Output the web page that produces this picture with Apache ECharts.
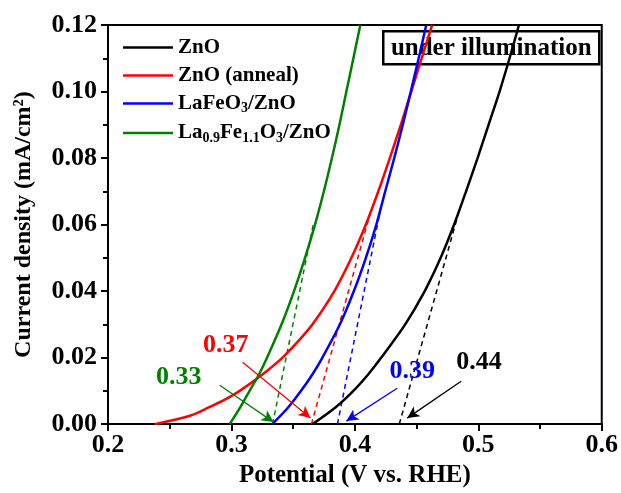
<!DOCTYPE html>
<html>
<head>
<meta charset="utf-8">
<script src="https://cdn.jsdelivr.net/npm/echarts@6/dist/echarts.min.js"></script>
<style>
html,body{margin:0;padding:0;background:#fff;}
#chart{width:621px;height:493px;}
</style>
</head>
<body>
<div id="chart"></div>
<script>
// ---- data ----
var xTicks = [0.2, 0.3, 0.4, 0.5, 0.6];
var yTicks = [0.00, 0.02, 0.04, 0.06, 0.08, 0.10, 0.12];

var potZnO = [0.3657, 0.3842, 0.3988, 0.4109, 0.4214, 0.4408, 0.4566, 0.4695, 0.4804, 0.4901, 0.4994, 0.5083, 0.5172, 0.5253, 0.5329];
var curZnO = [0, 0.005, 0.010, 0.015, 0.020, 0.030, 0.040, 0.050, 0.060, 0.070, 0.080, 0.090, 0.100, 0.110, 0.120];

var potAnneal = [0.2380, 0.2663, 0.2816, 0.2954, 0.3067, 0.3253, 0.3414, 0.3543, 0.3657, 0.3834, 0.3972, 0.4089, 0.4190, 0.4283, 0.4372, 0.4457, 0.4541, 0.4626];
var curAnneal = [0, 0.0025, 0.005, 0.0075, 0.010, 0.015, 0.020, 0.025, 0.030, 0.040, 0.050, 0.060, 0.070, 0.080, 0.090, 0.100, 0.110, 0.120];

var potLFO = [0.3331, 0.3459, 0.3564, 0.3657, 0.3737, 0.3879, 0.3992, 0.4089, 0.4174, 0.4246, 0.4319, 0.4388, 0.4453, 0.4517, 0.4578];
var curLFO = [0, 0.005, 0.010, 0.015, 0.020, 0.030, 0.040, 0.050, 0.060, 0.070, 0.080, 0.090, 0.100, 0.110, 0.120];

var potLFO2 = [0.2986, 0.3071, 0.3147, 0.3224, 0.3289, 0.3406, 0.3507, 0.3596, 0.3677, 0.3749, 0.3814, 0.3875, 0.3931, 0.3988, 0.4044];
var curLFO2 = [0, 0.005, 0.010, 0.015, 0.020, 0.030, 0.040, 0.050, 0.060, 0.070, 0.080, 0.090, 0.100, 0.110, 0.120];

// tangent (onset) lines
var tanZnO = [[0.436, 0], [0.4844, 0.064]];
var tanAnneal = [[0.3648, 0], [0.4129, 0.064]];
var tanLFO = [[0.3859, 0], [0.4210, 0.065]];
var tanLFO2 = [[0.3333, 0], [0.3663, 0.060]];

// onset labels and arrows
var onsetLabels = ['0.44', '0.37', '0.39', '0.33'];
var labelPos = [[0.5006, 0.0186], [0.2954, 0.0237], [0.4465, 0.0159], [0.2574, 0.0141]];
var arrowFrom = [[0.4861, 0.0129], [0.3091, 0.0186], [0.4343, 0.0108], [0.2905, 0.0117]];
var arrowTo = [[0.4424, 0.0018], [0.3640, 0.0018], [0.3931, 0.0009], [0.3341, 0.0006]];

var names = ['ZnO', 'ZnO (anneal)', 'LaFeO3/ZnO', 'La0.9Fe1.1O3/ZnO'];
var colors = ['#000000', '#ff0000', '#0000ff', '#008000'];

// ---- build ----
function zip(a, b) { return a.map(function (v, i) { return [v, b[i]]; }); }
var FONT = '"Liberation Serif","Times New Roman",serif';

var mainData = [zip(potZnO, curZnO), zip(potAnneal, curAnneal), zip(potLFO, curLFO), zip(potLFO2, curLFO2)];
var tanData = [tanZnO, tanAnneal, tanLFO, tanLFO2];

var series = [];
for (var i = 0; i < 4; i++) {
  series.push({
    name: names[i], type: 'line', data: mainData[i], smooth: 0.3,
    symbol: 'none', lineStyle: { color: colors[i], width: 2.5 }, itemStyle: { color: colors[i] },
    z: 3
  });
}
for (var j = 0; j < 4; j++) {
  series.push({
    name: 'tan' + j, type: 'line', data: tanData[j], symbol: 'none',
    lineStyle: { color: colors[j], width: 1.5, type: [5, 4] }, itemStyle: { color: colors[j] },
    z: 2,
    markLine: {
      silent: true, symbol: ['none', 'arrow'], symbolSize: [9, 12],
      lineStyle: { color: colors[j], width: 1.3, type: 'solid' },
      label: { show: false },
      data: [[{ coord: arrowFrom[j] }, { coord: arrowTo[j] }]]
    },
    markPoint: {
      silent: true, symbol: 'circle', symbolSize: 0,
      label: {
        show: true, position: 'inside', formatter: onsetLabels[j],
        color: colors[j], fontSize: 26, fontWeight: 'bold', fontFamily: FONT
      },
      data: [{ coord: labelPos[j] }]
    }
  });
}

var chart = echarts.init(document.getElementById('chart'), null, { renderer: 'canvas' });
chart.setOption({
  animation: false,
  backgroundColor: '#fff',
  grid: { left: 108, right: 18, top: 25, bottom: 68, show: true, borderColor: '#000', borderWidth: 2, backgroundColor: 'transparent' },
  legend: {
    data: names, orient: 'vertical', left: 118, top: 32, itemWidth: 50, itemHeight: 2.5, itemGap: 7,
    icon: 'rect',
    textStyle: {
      fontFamily: FONT, fontSize: 21, fontWeight: 'bold', color: '#000',
      rich: {
        n: { fontFamily: FONT, fontSize: 21, fontWeight: 'bold', color: '#000' },
        s: { fontFamily: FONT, fontSize: 14, fontWeight: 'bold', color: '#000', verticalAlign: 'bottom', padding: [10, 0, 0, 0] }
      }
    },
    formatter: function (name) {
      if (name === 'LaFeO3/ZnO') return '{n|LaFeO}{s|3}{n|/ZnO}';
      if (name === 'La0.9Fe1.1O3/ZnO') return '{n|La}{s|0.9}{n|Fe}{s|1.1}{n|O}{s|3}{n|/ZnO}';
      return '{n|' + name + '}';
    }
  },
  xAxis: {
    type: 'value', min: xTicks[0], max: xTicks[xTicks.length - 1], interval: 0.1,
    name: 'Potential (V vs. RHE)', nameLocation: 'middle', nameGap: 35,
    nameTextStyle: { fontFamily: FONT, fontSize: 25, fontWeight: 'bold', color: '#000' },
    axisLine: { lineStyle: { color: '#000', width: 2 } },
    axisTick: { show: true, inside: false, length: 7, lineStyle: { color: '#000', width: 2 } },
    minorTick: { show: true, splitNumber: 2, length: 5, lineStyle: { color: '#000', width: 2 } },
    splitLine: { show: false },
    axisLabel: { margin: 8, fontFamily: FONT, fontSize: 26, fontWeight: 'bold', color: '#000',
      formatter: function (v) { return v.toFixed(1); } }
  },
  yAxis: {
    type: 'value', min: yTicks[0], max: yTicks[yTicks.length - 1], interval: 0.02,
    name: 'Current density (mA/cm²)', nameLocation: 'middle', nameGap: 72,
    nameTextStyle: { fontFamily: FONT, fontSize: 24, fontWeight: 'bold', color: '#000' },
    axisLine: { show: true, lineStyle: { color: '#000', width: 2 } },
    axisTick: { show: true, inside: false, length: 7, lineStyle: { color: '#000', width: 2 } },
    minorTick: { show: true, splitNumber: 2, length: 5, lineStyle: { color: '#000', width: 2 } },
    splitLine: { show: false },
    axisLabel: { margin: 11, fontFamily: FONT, fontSize: 26, fontWeight: 'bold', color: '#000',
      formatter: function (v) { return v.toFixed(2); } }
  },
  graphic: [{
    type: 'group', left: 382, top: 30, z: 100,
    children: [
      { type: 'rect', shape: { x: 0, y: 0, width: 216, height: 33 },
        style: { fill: 'transparent', stroke: '#000', lineWidth: 2.5 } },
      { type: 'text', x: 108, y: 17,
        style: { text: 'under illumination', fill: '#000', font: 'bold 25px "Liberation Serif", serif',
          textAlign: 'center', textVerticalAlign: 'middle' } }
    ]
  }],
  series: series
});
</script>
</body>
</html>
